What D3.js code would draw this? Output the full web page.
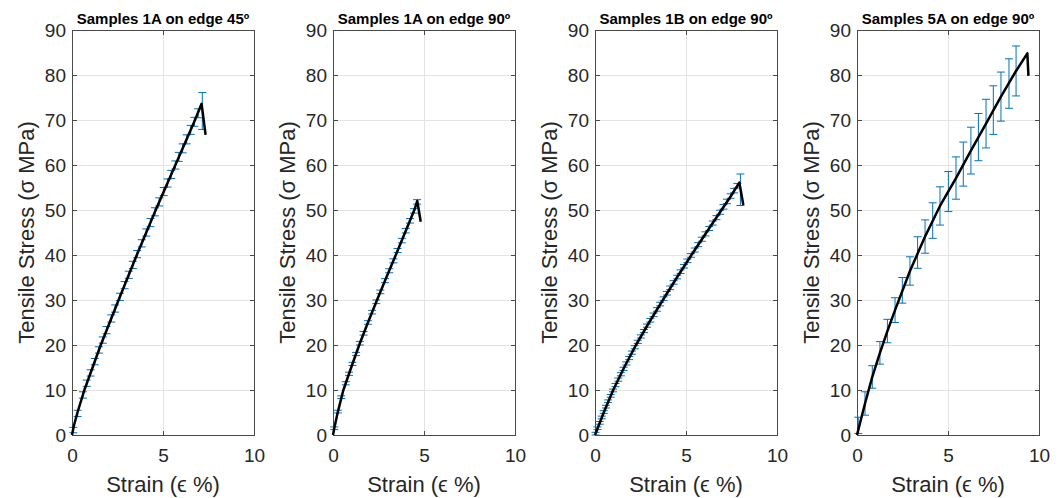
<!DOCTYPE html>
<html>
<head>
<meta charset="utf-8">
<script src="https://cdn.jsdelivr.net/npm/d3@7"></script>
<style>
  body { margin: 0; background: #fff; }
  svg { display: block; font-family: "Liberation Sans", Arial, sans-serif; }
</style>
</head>
<body>
<div id="chart"></div>
<script>
// titles and ticks
const titles = [
  "Samples 1A on edge 45º",
  "Samples 1A on edge 90º",
  "Samples 1B on edge 90º",
  "Samples 5A on edge 90º"
];
const xTicks = [0, 5, 10];
const yTicks = [0, 10, 20, 30, 40, 50, 60, 70, 80, 90];

// --- Samples 1A, 45º ---
const line1Strain = [0, 0.1, 0.3, 0.68, 1.13, 1.58, 2.07, 2.56, 3.06, 3.56, 4.08, 4.6, 5.14, 5.68, 6.22, 6.76, 7.12, 7.34];
const line1Stress = [0, 2, 5, 10, 15, 20, 25, 30, 35, 40, 45, 50, 55, 60, 65, 70, 73.6, 66.7];
const bar1Strain = [0.07, 0.31, 0.6, 0.81, 1.02, 1.25, 1.48, 1.69, 1.9, 2.16, 2.37, 2.63, 2.89, 3.12, 3.34, 3.58,
  3.83, 4.08, 4.31, 4.56, 4.79, 5.04, 5.25, 5.45, 5.68, 5.87, 6.08, 6.3, 6.52, 6.72, 6.93, 7.16];
const bar1Stress = [1.1, 4.8, 8.9, 11.5, 13.8, 16.3, 18.9, 21.1, 23.3, 25.9, 28.1, 30.7, 33.3, 35.6, 37.8, 40.2,
  42.6, 45.0, 47.2, 49.6, 51.8, 54.1, 56.0, 57.9, 60.0, 61.8, 63.7, 65.7, 67.8, 69.6, 71.5, 72.0];
const bar1Err = [0.6, 0.7, 0.7, 0.7, 0.7, 0.7, 0.7, 0.7, 0.8, 0.8, 0.8, 0.8, 0.8, 0.8, 0.8, 0.8,
  0.8, 0.8, 0.9, 0.9, 0.9, 0.9, 0.9, 0.9, 0.9, 1.0, 1.0, 1.0, 1.0, 1.0, 1.0, 4.1];

// --- Samples 1A, 90º ---
const line2Strain = [0, 0.07, 0.27, 0.57, 1.0, 1.44, 1.92, 2.42, 2.93, 3.45, 3.96, 4.47, 4.63, 4.82];
const line2Stress = [0, 1.5, 5.2, 10, 15, 20, 25, 30, 35, 40, 45, 50, 52, 47.4];
const bar2Strain = [0.07, 0.27, 0.45, 0.7, 0.88, 1.07, 1.27, 1.48, 1.68, 1.92, 2.15, 2.38, 2.6, 2.86, 3.09,
  3.32, 3.55, 3.78, 4.0, 4.23, 4.45, 4.62];
const bar2Stress = [1.5, 5.2, 8.4, 11.5, 13.6, 15.8, 18, 20.4, 22.6, 25, 27.3, 29.6, 31.8, 34.3, 36.5,
  38.7, 41, 43.2, 45.4, 47.6, 49.8, 51.8];
const bar2Err = [0.3, 0.3, 0.3, 0.35, 0.35, 0.35, 0.35, 0.4, 0.4, 0.4, 0.4, 0.4, 0.4, 0.45, 0.45,
  0.45, 0.45, 0.5, 0.5, 0.5, 0.5, 0.5];

// --- Samples 1B, 90º ---
const line3Strain = [0, 0.48, 1.0, 1.6, 2.25, 2.97, 3.73, 4.5, 5.3, 6.12, 6.95, 7.45, 7.93, 8.15];
const line3Stress = [0, 5, 10, 15, 20, 25, 30, 35, 40, 45, 50, 53, 56.1, 51.1];
const bar3Strain = [0.03, 0.14, 0.26, 0.37, 0.48, 0.6, 0.72, 0.86, 0.99, 1.13, 1.28, 1.42, 1.57, 1.72, 1.88,
  2.03, 2.19, 2.35, 2.52, 2.69, 2.86, 3.04, 3.22, 3.4, 3.58, 3.77, 3.95, 4.13, 4.32, 4.52, 4.7, 4.89,
  5.08, 5.27, 5.48, 5.67, 5.87, 6.07, 6.27, 6.47, 6.67, 6.87, 7.06, 7.25, 7.45, 7.64, 7.82, 7.99];
const bar3Stress = [0.3, 1.5, 2.7, 3.9, 5.1, 6.3, 7.5, 8.7, 9.9, 11.1, 12.3, 13.5, 14.7, 15.9, 17.1,
  18.3, 19.5, 20.7, 21.9, 23.1, 24.3, 25.5, 26.7, 27.9, 29.1, 30.3, 31.5, 32.7, 33.9, 35.1, 36.3, 37.5,
  38.7, 39.9, 41.1, 42.3, 43.5, 44.7, 45.9, 47.1, 48.3, 49.5, 50.7, 51.9, 53.1, 54.3, 55.4, 54.5];
const bar3Err = [0.3, 0.3, 0.3, 0.3, 0.3, 0.3, 0.3, 0.3, 0.3, 0.35, 0.35, 0.35, 0.35, 0.35, 0.35,
  0.35, 0.35, 0.35, 0.35, 0.35, 0.35, 0.4, 0.4, 0.4, 0.4, 0.4, 0.4, 0.4, 0.4, 0.4, 0.4, 0.4,
  0.4, 0.4, 0.45, 0.45, 0.45, 0.45, 0.45, 0.45, 0.45, 0.45, 0.5, 0.5, 0.5, 0.5, 0.5, 3.5];

// --- Samples 5A, 90º ---
const line4Strain = [0, 0.44, 0.84, 1.26, 1.67, 2.09, 2.91, 3.74, 4.56, 5.44, 6.26, 7.09, 7.91, 8.74, 9.36, 9.42];
const line4Stress = [0, 7.0, 12.9, 18.25, 23.1, 27.75, 36.45, 44.1, 50.9, 57.1, 63.2, 69.2, 75.2, 80.9, 84.8, 79.8];
const bar4Strain = [0.07, 0.44, 0.84, 1.26, 1.67, 2.09, 2.49, 2.91, 3.33, 3.74, 4.16, 4.56, 5.02, 5.44,
  5.84, 6.26, 6.67, 7.09, 7.49, 7.91, 8.35, 8.74];
const bar4Stress = [2.15, 7.0, 12.9, 18.25, 23.1, 27.75, 32.15, 36.45, 40.55, 44.1, 47.65, 50.9, 54.1, 57.1,
  60.2, 63.2, 66.2, 69.2, 72.2, 75.2, 78.1, 80.9];
const bar4Err = [1.8, 2.6, 2.5, 2.5, 2.6, 2.75, 2.85, 3.15, 3.5, 3.7, 3.95, 4.25, 4.45, 4.7,
  4.9, 5.2, 5.25, 5.4, 5.4, 5.45, 5.5, 5.55];

const panels = [
  { line: [line1Strain, line1Stress], bars: [bar1Strain, bar1Stress, bar1Err] },
  { line: [line2Strain, line2Stress], bars: [bar2Strain, bar2Stress, bar2Err] },
  { line: [line3Strain, line3Stress], bars: [bar3Strain, bar3Stress, bar3Err] },
  { line: [line4Strain, line4Stress], bars: [bar4Strain, bar4Stress, bar4Err] }
];

const width = 1062;
const height = 498;
const lefts = [72, 333, 595, 857];
const plotW = 182;
const plotTop = 30;
const plotBottom = 435;
const textColor = "#262626";

const svg = d3.select("#chart")
  .append("svg")
  .attr("width", width)
  .attr("height", height);

panels.forEach((p, i) => {
  const x = d3.scaleLinear().domain([0, 10]).range([lefts[i], lefts[i] + plotW]);
  const y = d3.scaleLinear().domain([0, 90]).range([plotBottom, plotTop]);
  const g = svg.append("g");

  // grid
  g.selectAll(".gx")
    .data(xTicks)
    .enter()
    .append("line")
    .attr("x1", (d) => x(d)).attr("x2", (d) => x(d))
    .attr("y1", plotTop).attr("y2", plotBottom)
    .attr("stroke", "#e3e3e3")
    .attr("shape-rendering", "crispEdges");
  g.selectAll(".gy")
    .data(yTicks)
    .enter()
    .append("line")
    .attr("x1", x(0)).attr("x2", x(10))
    .attr("y1", (d) => y(d)).attr("y2", (d) => y(d))
    .attr("stroke", "#e3e3e3")
    .attr("shape-rendering", "crispEdges");

  // axes (ticks point inward, box on)
  const styleAxis = (sel) => {
    sel.selectAll("path, line")
      .attr("stroke", "#4a4a4a")
      .attr("shape-rendering", "crispEdges");
    sel.selectAll("text")
      .attr("fill", textColor)
      .style("font-size", "19px")
      .style("font-family", "'Liberation Sans', Arial, sans-serif");
  };
  g.append("g")
    .attr("transform", `translate(0,${plotBottom})`)
    .call(d3.axisBottom(x).tickValues(xTicks).tickSizeInner(-4.5).tickSizeOuter(0).tickPadding(14))
    .call(styleAxis);
  g.append("g")
    .attr("transform", `translate(${lefts[i]},0)`)
    .call(d3.axisLeft(y).tickValues(yTicks).tickSizeInner(-4.5).tickSizeOuter(0).tickPadding(6))
    .call(styleAxis);
  g.append("g")
    .attr("transform", `translate(0,${plotTop})`)
    .call(d3.axisTop(x).tickValues(xTicks).tickSizeInner(-4.5).tickSizeOuter(0).tickFormat(""))
    .call(styleAxis);
  g.append("g")
    .attr("transform", `translate(${lefts[i] + plotW},0)`)
    .call(d3.axisRight(y).tickValues(yTicks).tickSizeInner(-4.5).tickSizeOuter(0).tickFormat(""))
    .call(styleAxis);
  g.selectAll(".domain").attr("fill", "none");

  // error bars
  const [bs, bv, be] = p.bars;
  const bars = bs.map((s, k) => ({ s, v: bv[k], e: be[k] }));
  const eb = g.append("g").attr("stroke", "#0072BD").attr("stroke-width", 1);
  eb.selectAll(".v")
    .data(bars)
    .enter()
    .append("line")
    .attr("x1", (d) => x(d.s)).attr("x2", (d) => x(d.s))
    .attr("y1", (d) => y(d.v - d.e)).attr("y2", (d) => y(d.v + d.e));
  eb.selectAll(".cl")
    .data(bars)
    .enter()
    .append("line")
    .attr("x1", (d) => x(d.s) - 4).attr("x2", (d) => x(d.s) + 4)
    .attr("y1", (d) => y(d.v - d.e)).attr("y2", (d) => y(d.v - d.e));
  eb.selectAll(".ch")
    .data(bars)
    .enter()
    .append("line")
    .attr("x1", (d) => x(d.s) - 4).attr("x2", (d) => x(d.s) + 4)
    .attr("y1", (d) => y(d.v + d.e)).attr("y2", (d) => y(d.v + d.e));

  // stress-strain curve
  const [ls, lv] = p.line;
  const pts = ls.map((s, k) => [s, lv[k]]);
  g.append("path")
    .datum(pts)
    .attr("fill", "none")
    .attr("stroke", "#000")
    .attr("stroke-width", 2.5)
    .attr("stroke-linejoin", "round")
    .attr("d", d3.line().x((d) => x(d[0])).y((d) => y(d[1])));

  // labels
  const cx = lefts[i] + plotW / 2;
  g.append("text")
    .attr("x", cx)
    .attr("y", 24)
    .attr("text-anchor", "middle")
    .style("font-size", "15px")
    .style("font-weight", "bold")
    .attr("fill", "#000")
    .text(titles[i]);
  g.append("text")
    .attr("x", cx)
    .attr("y", 492)
    .attr("text-anchor", "middle")
    .style("font-size", "22px")
    .attr("fill", textColor)
    .text("Strain (ϵ %)");
  g.append("text")
    .attr("transform", `translate(${lefts[i] - 38},${(plotTop + plotBottom) / 2}) rotate(-90)`)
    .attr("text-anchor", "middle")
    .style("font-size", "22px")
    .attr("fill", textColor)
    .text("Tensile Stress (σ MPa)");
});
</script>
</body>
</html>
